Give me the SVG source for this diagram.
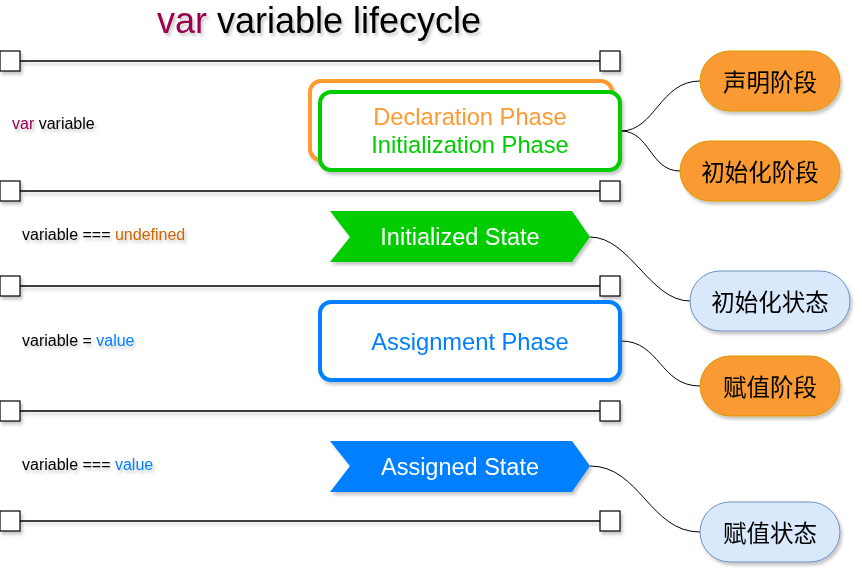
<svg xmlns="http://www.w3.org/2000/svg" width="862" height="573" viewBox="0 0 862 573">
<defs>
<filter id="sh" x="-10%" y="-10%" width="130%" height="140%">
<feDropShadow dx="2" dy="3" stdDeviation="1.5" flood-color="#000" flood-opacity="0.22"/>
</filter>
</defs>
<style>
text{font-family:"Liberation Sans",Arial,"Noto Sans CJK SC",sans-serif}
.cjk{font-family:"Noto Sans CJK SC",sans-serif;font-size:23.5px;fill:#000;text-anchor:middle;dominant-baseline:central}
.tl{stroke:#000;stroke-width:1.5;fill:none}
.sq{fill:#fff;stroke:#000;stroke-width:1.2}
.code{font-size:16px;fill:#000}
.ph{font-size:23.7px;text-anchor:middle}
.st{font-size:23.5px;text-anchor:middle;fill:#fff}
.org{fill:#f99a30;stroke:#d79b00;stroke-width:1}
.lb{fill:#dae8fc;stroke:#6c8ebf;stroke-width:1}
.conn{fill:none;stroke:#000;stroke-width:1}
</style>
<rect width="862" height="573" fill="#fff"/>

<g id="title" filter="url(#sh)">
<text x="319" y="33" font-size="36" text-anchor="middle"><tspan fill="#99004d">var</tspan> variable lifecycle</text>
</g>

<g id="timeline" filter="url(#sh)">
<line class="tl" x1="20" y1="61" x2="600" y2="61"/>
<rect class="sq" x="0" y="51" width="20" height="20"/>
<rect class="sq" x="600" y="51" width="20" height="20"/>
<line class="tl" x1="20" y1="191" x2="600" y2="191"/>
<rect class="sq" x="0" y="181" width="20" height="20"/>
<rect class="sq" x="600" y="181" width="20" height="20"/>
<line class="tl" x1="20" y1="286" x2="600" y2="286"/>
<rect class="sq" x="0" y="276" width="20" height="20"/>
<rect class="sq" x="600" y="276" width="20" height="20"/>
<line class="tl" x1="20" y1="411" x2="600" y2="411"/>
<rect class="sq" x="0" y="401" width="20" height="20"/>
<rect class="sq" x="600" y="401" width="20" height="20"/>
<line class="tl" x1="20" y1="521" x2="600" y2="521"/>
<rect class="sq" x="0" y="511" width="20" height="20"/>
<rect class="sq" x="600" y="511" width="20" height="20"/>
</g>

<g id="code-labels" filter="url(#sh)">
<text class="code" x="12" y="129"><tspan fill="#99004d">var</tspan> variable</text>
<text class="code" x="22" y="240">variable === <tspan fill="#cc6600">undefined</tspan></text>
<text class="code" x="22" y="346">variable = <tspan fill="#007fff">value</tspan></text>
<text class="code" x="22" y="470">variable === <tspan fill="#007fff">value</tspan></text>
</g>

<g id="connectors">
<path class="conn" d="M621 131 C655 131 660 81 700 81"/>
<path class="conn" d="M621 131 C650 131 650 171 680 171"/>
<path class="conn" d="M590 237 C630 237 650 301 690 301"/>
<path class="conn" d="M621 341 C660 341 660 386 700 386"/>
<path class="conn" d="M590 466 C640 466 650 532 700 532"/>
</g>

<g id="declaration-phase" filter="url(#sh)">
<rect x="310" y="81" width="302" height="79" rx="11" fill="#fff" stroke="#ff9933" stroke-width="4"/>
</g>
<g id="initialization-phase" filter="url(#sh)">
<rect x="320" y="92" width="300" height="78" rx="11" fill="#fff" stroke="#00cc00" stroke-width="4"/>
<text class="ph" x="470" y="125" fill="#ff9933">Declaration Phase</text>
<text class="ph" x="470" y="153" fill="#00cc00">Initialization Phase</text>
</g>

<g id="initialized-state" filter="url(#sh)">
<polygon points="330,211 572,211 590,237 572,262 330,262 350,237" fill="#00cc00"/>
<text class="st" x="460" y="245">Initialized State</text>
</g>

<g id="assignment-phase" filter="url(#sh)">
<rect x="320" y="302" width="300" height="78" rx="11" fill="#fff" stroke="#007fff" stroke-width="4"/>
<text class="ph" x="470" y="350" fill="#007fff">Assignment Phase</text>
</g>

<g id="assigned-state" filter="url(#sh)">
<polygon points="330,441 572,441 590,466 572,492 330,492 350,466" fill="#007fff"/>
<text class="st" x="460" y="475">Assigned State</text>
</g>

<g id="n-declare" filter="url(#sh)">
<rect class="org" x="700" y="51" width="140" height="60" rx="30"/>
<text class="cjk" x="770" y="81">声明阶段</text>
</g>
<g id="n-init" filter="url(#sh)">
<rect class="org" x="680" y="141" width="160" height="60" rx="30"/>
<text class="cjk" x="760" y="171">初始化阶段</text>
</g>
<g id="n-init-state" filter="url(#sh)">
<rect class="lb" x="690" y="271" width="160" height="60" rx="30"/>
<text class="cjk" x="770" y="301">初始化状态</text>
</g>
<g id="n-assign" filter="url(#sh)">
<rect class="org" x="700" y="356" width="140" height="60" rx="30"/>
<text class="cjk" x="770" y="386">赋值阶段</text>
</g>
<g id="n-assign-state" filter="url(#sh)">
<rect class="lb" x="700" y="502" width="140" height="60" rx="30"/>
<text class="cjk" x="770" y="532">赋值状态</text>
</g>
</svg>
